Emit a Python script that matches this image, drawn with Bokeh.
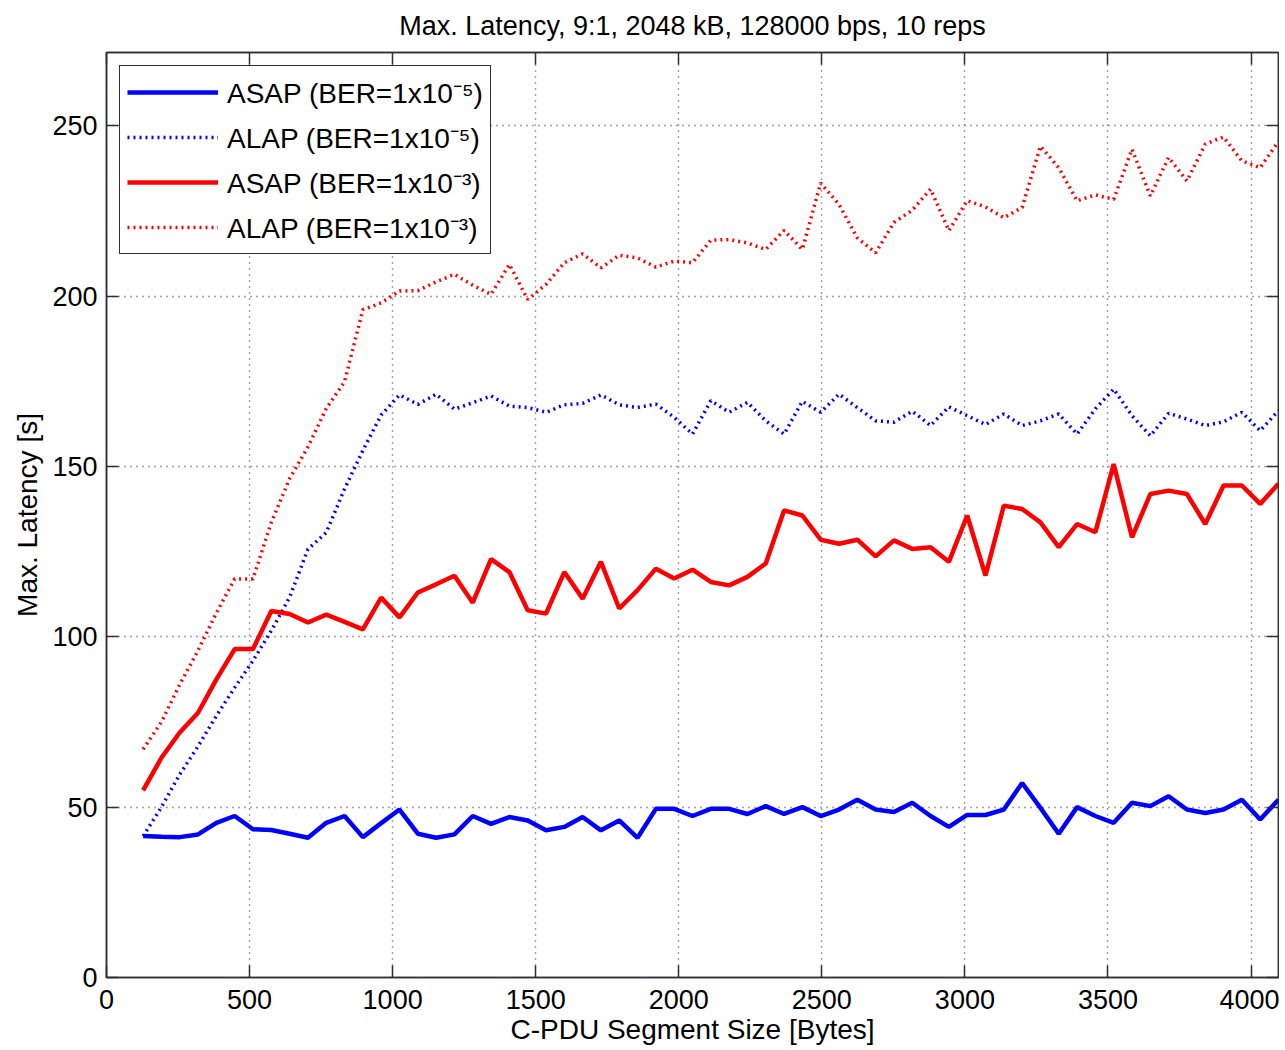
from bokeh.plotting import figure
from bokeh.models import Range1d, FixedTicker, LinearAxis, Legend, LegendItem
from bokeh.embed import file_html
from bokeh.resources import INLINE

# ---------------- data ----------------
segment_size = [128, 192, 256, 320, 384, 448, 512, 576, 640, 704, 768, 832, 896, 960,
                1024, 1088, 1152, 1216, 1280, 1344, 1408, 1472, 1536, 1600, 1664, 1728,
                1792, 1856, 1920, 1984, 2048, 2112, 2176, 2240, 2304, 2368, 2432, 2496,
                2560, 2624, 2688, 2752, 2816, 2880, 2944, 3008, 3072, 3136, 3200, 3264,
                3328, 3392, 3456, 3520, 3584, 3648, 3712, 3776, 3840, 3904, 3968, 4032,
                4096]

asap_ber5 = [41.5, 41.3, 41.2, 42.0, 45.4, 47.4, 43.5, 43.3, 42.2, 41.0,
             45.4, 47.4, 41.2, 45.3, 49.3, 42.2, 41.0, 42.0, 47.4, 45.1,
             47.1, 46.1, 43.2, 44.2, 47.1, 43.2, 46.1, 41.0, 49.5, 49.5,
             47.4, 49.5, 49.5, 48.0, 50.3, 48.0, 50.0, 47.4, 49.3, 52.2,
             49.3, 48.6, 51.3, 47.4, 44.2, 47.7, 47.7, 49.3, 57.1, 49.8,
             42.2, 50.0, 47.4, 45.4, 51.3, 50.3, 53.2, 49.3, 48.3, 49.3,
             52.2, 46.4, 52.2]

alap_ber5 = [41.5, 50.0, 59.6, 67.9, 76.8, 85.1, 93.0, 101.8, 111.6, 125.7,
             130.6, 143.4, 154.7, 165.1, 171.0, 168.2, 171.2, 166.8, 168.7, 170.7,
             167.7, 167.3, 165.9, 168.1, 168.5, 171.0, 168.1, 167.3, 168.3, 164.4,
             159.5, 169.3, 165.9, 168.8, 163.4, 159.5, 169.1, 165.9, 171.2, 167.3,
             163.4, 163.0, 166.2, 162.0, 167.5, 164.9, 162.3, 165.4, 162.0, 163.4,
             165.4, 159.5, 166.9, 172.7, 164.9, 159.0, 165.6, 163.9, 162.0, 163.1,
             165.9, 160.5, 166.4]

asap_ber3 = [54.9, 64.5, 71.9, 77.7, 87.5, 96.4, 96.4, 107.6, 106.7, 104.2,
             106.5, 104.4, 102.2, 111.5, 105.7, 113.0, 115.4, 117.9, 110.0, 122.8,
             119.0, 107.8, 106.8, 119.0, 111.2, 122.0, 108.3, 113.7, 120.0, 117.1,
             119.7, 116.1, 115.1, 117.6, 121.5, 137.1, 135.6, 128.5, 127.3, 128.5,
             123.6, 128.3, 125.8, 126.3, 122.0, 135.6, 118.0, 138.5, 137.5, 133.6,
             126.3, 133.1, 130.7, 150.7, 129.2, 141.9, 142.9, 141.9, 133.1, 144.4,
             144.4, 139.0, 144.9]

alap_ber3 = [67.0, 75.0, 86.0, 96.0, 107.0, 117.0, 117.0, 133.6, 146.4, 155.7,
             167.0, 174.9, 196.0, 198.0, 201.5, 201.6, 204.2, 206.4, 203.2, 200.5,
             209.3, 199.0, 203.4, 209.8, 212.4, 208.3, 212.0, 211.2, 208.5, 210.3,
             209.8, 216.4, 216.6, 215.6, 213.7, 219.3, 213.7, 233.2, 226.9, 217.1,
             212.7, 221.6, 225.2, 231.4, 219.2, 228.0, 226.2, 223.0, 226.0, 244.0,
             237.7, 228.0, 229.7, 228.4, 243.1, 229.4, 240.7, 233.8, 244.6, 246.7,
             239.7, 237.7, 245.4]

x_ticks = [0, 500, 1000, 1500, 2000, 2500, 3000, 3500, 4000]
y_ticks = [0, 50, 100, 150, 200, 250]

series_labels = ["ASAP (BER=1x10\u207b\u2075)", "ALAP (BER=1x10\u207b\u2075)",
                 "ASAP (BER=1x10\u207b\u00b3)", "ALAP (BER=1x10\u207b\u00b3)"]

title_text = "Max. Latency, 9:1, 2048 kB, 128000 bps, 10 reps"
x_label = "C-PDU Segment Size [Bytes]"
y_label = "Max. Latency [s]"

# ---------------- styling ----------------
FONT = "Liberation Sans"
AXC = "#303030"
BLUE = "#0000ff"
RED = "#ff0000"

p = figure(width=1279, height=1047, output_backend="svg", toolbar_location=None,
           x_range=Range1d(0, 4096), y_range=Range1d(0, 271.5),
           min_border_left=106, min_border_right=1, min_border_top=52,
           min_border_bottom=0, background_fill_color="white",
           border_fill_color="white")

p.title.text = title_text
p.title.align = "center"
p.title.vertical_align = "top"
p.title.text_font = FONT
p.title.text_font_size = "27px"
p.title.text_font_style = "normal"
p.title.text_color = "black"
p.title.standoff = 20

p.outline_line_color = AXC
p.outline_line_width = 1.5
p.outline_line_alpha = 1.0

for ax in (p.xaxis[0], p.yaxis[0]):
    ax.major_label_text_font = FONT
    ax.major_label_text_font_size = "27px"
    ax.major_label_text_color = "black"
    ax.axis_label_text_font = FONT
    ax.axis_label_text_font_size = "28px"
    ax.axis_label_text_font_style = "normal"
    ax.axis_label_text_color = "black"
    ax.axis_line_color = AXC
    ax.axis_line_width = 1.5
    ax.major_tick_line_color = AXC
    ax.major_tick_line_width = 1.5
    ax.major_tick_in = 12
    ax.major_tick_out = 0
    ax.minor_tick_line_color = None

p.xaxis[0].ticker = FixedTicker(ticks=x_ticks)
p.yaxis[0].ticker = FixedTicker(ticks=y_ticks)
p.xaxis[0].axis_label = x_label
p.yaxis[0].axis_label = y_label
p.xaxis[0].major_label_standoff = 12
p.xaxis[0].axis_label_standoff = 2
p.yaxis[0].major_label_standoff = 9
p.yaxis[0].axis_label_standoff = 6

# box ticks on top and right (tick marks only, no labels)
for place, ticks in (("above", x_ticks), ("right", y_ticks)):
    ax = LinearAxis(ticker=FixedTicker(ticks=ticks), major_label_text_font_size="0px",
                    major_label_text_color=None,
                    major_label_standoff=0, axis_label_standoff=0,
                    axis_line_color=AXC, axis_line_width=1.5,
                    major_tick_line_color=AXC, major_tick_line_width=1.5,
                    major_tick_in=12, major_tick_out=0, minor_tick_line_color=None)
    p.add_layout(ax, place)

for g in (p.xgrid[0], p.ygrid[0]):
    g.grid_line_color = "#444444"
    g.grid_line_dash = "1 5"
    g.grid_line_width = 1.4
p.xgrid[0].ticker = FixedTicker(ticks=x_ticks)
p.ygrid[0].ticker = FixedTicker(ticks=y_ticks)

r1 = p.line(segment_size, asap_ber5, line_color=BLUE, line_width=4.5)
r2 = p.line(segment_size, alap_ber5, line_color=BLUE, line_width=3.5, line_dash="2 4")
r3 = p.line(segment_size, asap_ber3, line_color=RED, line_width=4.5)
r4 = p.line(segment_size, alap_ber3, line_color=RED, line_width=3.5, line_dash="2 4")

legend = Legend(items=[LegendItem(label=lab, renderers=[r])
                       for lab, r in zip(series_labels, [r1, r2, r3, r4])],
                location="top_left", margin=13, padding=7, spacing=7,
                glyph_width=91, glyph_height=36, label_height=36, label_standoff=9,
                label_text_font=FONT, label_text_font_size="28px",
                label_text_color="black",
                border_line_color=AXC, border_line_width=1.5, border_line_alpha=1.0,
                background_fill_color="white", background_fill_alpha=1.0)
p.add_layout(legend)

open("out.html", "w").write(file_html(p, INLINE))
